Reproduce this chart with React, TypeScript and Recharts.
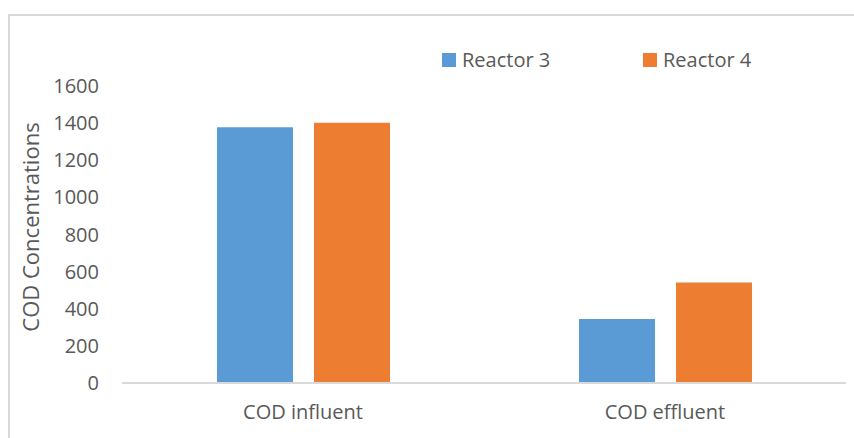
import { BarChart, Bar, XAxis, YAxis, Label } from "recharts";

const categories = ["COD influent", "COD effluent"];
const reactor3 = [1378, 345];
const reactor4 = [1402, 542];
const yTicks = [0, 200, 400, 600, 800, 1000, 1200, 1400, 1600];

const seriesMeta = [
  { key: "reactor3", name: "Reactor 3", color: "#5B9BD5" },
  { key: "reactor4", name: "Reactor 4", color: "#ED7D31" },
];

const data = categories.map((name, i) => ({
  name,
  reactor3: reactor3[i],
  reactor4: reactor4[i],
}));

const textColor = "#595959";
const lineColor = "#D9D9D9";
const font = "'Open Sans', sans-serif";

// legend sits above the plot, drawn as plain html so it doesn't eat plot space
function ChartLegend() {
  return (
    <div
      style={{
        position: "absolute",
        left: 442,
        top: 48,
        display: "flex",
        fontFamily: font,
        fontSize: 20,
        color: textColor,
      }}
    >
      {seriesMeta.map((s, i) => (
        <div
          key={s.key}
          style={{ display: "flex", alignItems: "center", width: i === 0 ? 201 : "auto" }}
        >
          <div style={{ width: 14, height: 14, background: s.color, marginRight: 6 }} />
          <span style={{ lineHeight: "24px" }}>{s.name}</span>
        </div>
      ))}
    </div>
  );
}

function YTitle() {
  return (
    <text
      x={30}
      y={227}
      transform="rotate(-90 30 227)"
      textAnchor="middle"
      dominantBaseline="central"
      fill={textColor}
      fontSize={22}
      fontFamily={font}
    >
      COD Concentrations
    </text>
  );
}

export default function App() {
  return (
    <div
      style={{
        position: "absolute",
        left: 0,
        top: 0,
        width: 854,
        height: 438,
        background: "#fff",
        overflow: "hidden",
      }}
    >
      <div
        style={{
          position: "absolute",
          left: 8,
          top: 14,
          width: 900,
          height: 500,
          borderLeft: `2px solid ${lineColor}`,
          borderTop: `2px solid ${lineColor}`,
        }}
      />
      <div style={{ position: "absolute", left: 0, top: 0 }}>
        <BarChart
          width={854}
          height={438}
          data={data}
          margin={{ top: 86, right: 8, bottom: 0, left: 0 }}
          barSize={76}
          barGap={21}
        >
          <XAxis
            dataKey="name"
            height={55}
            axisLine={{ stroke: lineColor, strokeWidth: 2 }}
            tickLine={false}
            tickSize={0}
            tickMargin={22}
            tick={{ fill: textColor, fontSize: 20, fontFamily: font }}
          />
          <YAxis
            width={122}
            domain={[0, 1600]}
            ticks={yTicks}
            axisLine={false}
            tickLine={false}
            tickSize={0}
            tickMargin={23}
            tick={{ fill: textColor, fontSize: 20, fontFamily: font }}
          >
            <Label content={<YTitle />} />
          </YAxis>
          {seriesMeta.map((s) => (
            <Bar
              key={s.key}
              dataKey={s.key}
              name={s.name}
              fill={s.color}
              isAnimationActive={false}
            />
          ))}
        </BarChart>
      </div>
      <ChartLegend />
    </div>
  );
}
